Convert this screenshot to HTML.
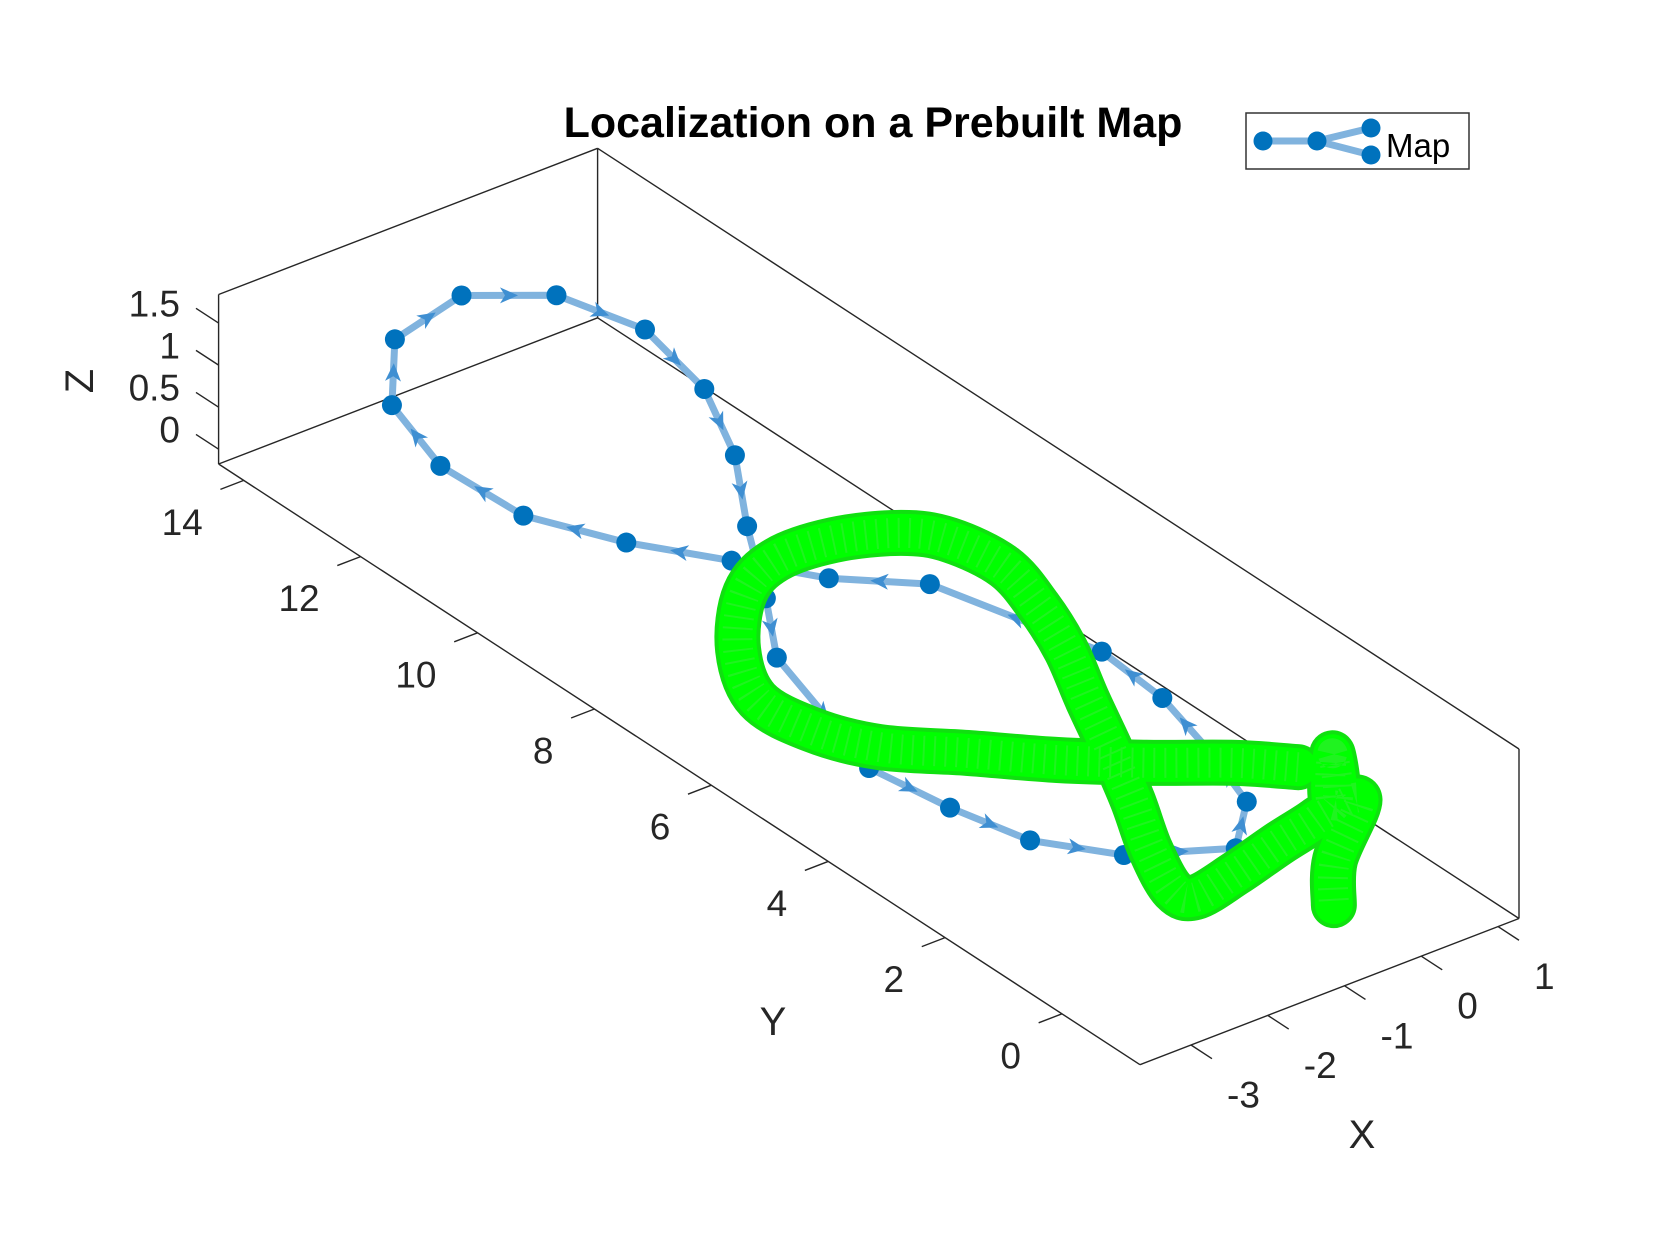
<!DOCTYPE html>
<html><head><meta charset="utf-8"><title>Localization on a Prebuilt Map</title>
<style>html,body{margin:0;padding:0;background:#fff;width:1680px;height:1260px;overflow:hidden}svg{display:block;font-family:"Liberation Sans",Arial,sans-serif}</style>
</head><body>
<svg id="chart" width="1680" height="1260" viewBox="0 0 1680 1260" xmlns="http://www.w3.org/2000/svg">
<rect width="1680" height="1260" fill="#fff"/>
<text x="873" y="123" text-anchor="middle" dominant-baseline="central" font-size="43" font-weight="bold" fill="#000">Localization on a Prebuilt Map</text>
<g id="axes"></g>
<g id="mapSeries"></g>
<g id="trajSeries"></g>
<g id="legend">
<rect x="1246" y="113" width="223" height="56" fill="#fff" stroke="#333" stroke-width="1.5"/>
<polyline points="1263,141 1317,141 1371,128" fill="none" stroke="#80b3de" stroke-width="7"/>
<line x1="1317" y1="141" x2="1371" y2="155" stroke="#80b3de" stroke-width="7"/>
<circle cx="1263" cy="141" r="9.5" fill="#0072bd"/>
<circle cx="1317" cy="141" r="9.5" fill="#0072bd"/>
<circle cx="1371" cy="128" r="9.5" fill="#0072bd"/>
<circle cx="1371" cy="155" r="9.5" fill="#0072bd"/>
<text x="1386" y="157" font-size="33" fill="#000">Map</text>
</g>
</svg>
<script>
// Axis limits
const xLim = [-3.665, 1.273];
const yLim = [-1.335, 14.43];
const zLim = [-0.176, 1.84];
const xTicks = [-3, -2, -1, 0, 1];
const yTicks = [0, 2, 4, 6, 8, 10, 12, 14];
const zTicks = [0, 0.5, 1, 1.5];
const zTickLabels = ["0", "0.5", "1", "1.5"];
// Map keyframes (blue)
const mapX = [-2.96,-2.32,-1.33,-0.55,-0.15,-0.20,-0.57,-1.15,-1.69,-2.24,-2.66,-2.39,-2.04,-1.35,-0.35,0.22,0.45,0.62,0.60,-0.17,-1.03,-1.71,-2.45,-3.06,-3.22];
const mapY = [12.39,13.18,13.34,12.74,11.75,10.67,9.66,8.69,7.66,6.75,4.62,3.59,2.68,1.98,1.38,1.94,2.89,3.91,4.92,6.85,7.45,8.22,9.05,10.01,11.22];
const mapZ = [1.2,1.4,1.5,1.5,1.4,1.2,1.0,0.8,0.6,0.5,0.3,0.2,0.1,0.0,0.0,0.1,0.2,0.3,0.4,0.6,0.7,0.8,0.9,1.0,1.1];
// Estimated camera trajectory (green)
const trajX = [1.18,0.72,-0.01,-0.70,-1.35,-2.00,-2.33,-2.40,-1.93,-1.16,-0.49,0.23,0.87,1.18,1.29,1.07,0.75,0.30,-0.14,-0.59,-1.07,-1.39,-1.29,-0.66,0.08,0.66,1.09,1.0,1.0,1.27,0.32,-0.26];
const trajY = [2.32,2.79,3.36,3.97,4.66,5.32,6.03,6.87,7.82,8.71,9.06,9.02,8.71,8.28,7.49,6.61,5.73,4.77,3.79,2.83,1.89,1.09,0.83,0.97,1.19,1.34,1.53,1.5,1.5,1.39,0.56,-0.18];
const trajZ = [0,0,0,0,0,0,0,0,0,0,0,0,0,0,0,0,0,0,0,0,0,0,0,0,0,0,0,0.6,0,0,0,0];

const NS = "http://www.w3.org/2000/svg";
const FRONT = [1140, 1064.7];
const EX = [379 / (xLim[1] - xLim[0]), -146.2 / (xLim[1] - xLim[0])];
const EY = [-921.4 / (yLim[1] - yLim[0]), -600.7 / (yLim[1] - yLim[0])];
const EZ = -169.5 / (zLim[1] - zLim[0]);
function proj(x, y, z) {
  const u = x - xLim[0], v = y - yLim[0], w = z - zLim[0];
  return [FRONT[0] + u * EX[0] + v * EY[0], FRONT[1] + u * EX[1] + v * EY[1] + w * EZ];
}
function mk(tag, attrs, parent) {
  const e = document.createElementNS(NS, tag);
  for (const k in attrs) e.setAttribute(k, attrs[k]);
  parent.appendChild(e);
  return e;
}
const axes = document.getElementById("axes");
function edge(a, b, name) {
  const p = proj(a[0], a[1], a[2]), q = proj(b[0], b[1], b[2]);
  const l = mk("line", {x1: p[0], y1: p[1], x2: q[0], y2: q[1], stroke: "#262626", "stroke-width": 1.4}, axes);
  
  
}
const [x0, x1] = xLim, [y0, y1] = yLim, [z0, z1] = zLim;
edge([x0, y1, z0], [x1, y1, z0], "box-edge-back-left-floor");
edge([x1, y1, z0], [x1, y0, z0], "box-edge-back-right-floor");
edge([x0, y1, z0], [x0, y1, z1], "box-edge-left-vertical");
edge([x1, y1, z0], [x1, y1, z1], "box-edge-back-vertical");
edge([x1, y0, z0], [x1, y0, z1], "box-edge-right-vertical");
edge([x0, y1, z1], [x1, y1, z1], "box-edge-top-left");
edge([x1, y1, z1], [x1, y0, z1], "box-edge-top-right");
edge([x0, y1, z0], [x0, y0, z0], "y-axis-line");
edge([x0, y0, z0], [x1, y0, z0], "x-axis-line");

function txt(x, y, s, anchor, size, name) {
  const t = mk("text", {x: x, y: y, "text-anchor": anchor, "dominant-baseline": "central", "font-size": size, fill: "#262626"}, axes);
  t.textContent = s;
  
  
  return t;
}
const eyN = Math.hypot(EY[0], EY[1]), exN = Math.hypot(EX[0], EX[1]);
yTicks.forEach(v => {
  const p = proj(x0, v, z0);
  const l = mk("line", {x1: p[0], y1: p[1], x2: p[0] - EX[0] / exN * 25, y2: p[1] - EX[1] / exN * 25, stroke: "#262626", "stroke-width": 1.4}, axes);
  
  
  txt(p[0] - 41, p[1] + 42, String(v), "end", 37, "y-tick-label");
});
xTicks.forEach(v => {
  const p = proj(v, y0, z0);
  const l = mk("line", {x1: p[0], y1: p[1], x2: p[0] - EY[0] / eyN * 25, y2: p[1] - EY[1] / eyN * 25, stroke: "#262626", "stroke-width": 1.4}, axes);
  
  
  txt(p[0] + 36, p[1] + 50, String(v), "start", 37, "x-tick-label");
});
zTicks.forEach((v, i) => {
  const p = proj(x0, y1, v);
  const l = mk("line", {x1: p[0], y1: p[1], x2: p[0] + EY[0] / eyN * 27, y2: p[1] + EY[1] / eyN * 27, stroke: "#262626", "stroke-width": 1.4}, axes);
  
  
  txt(180, p[1] - 19, zTickLabels[i], "end", 37, "z-tick-label");
});
txt(1362, 1135, "X", "middle", 40, "x-axis-title");
txt(773, 1022, "Y", "middle", 40, "y-axis-title");
const zt = txt(80, 381, "Z", "middle", 40, "z-axis-title");
zt.setAttribute("transform", "rotate(-90 80 381)");

// Map series
const mapG = document.getElementById("mapSeries");
const mp = mapX.map((x, i) => proj(x, mapY[i], mapZ[i]));
const closed = mp.concat([mp[0]]);
const ml = mk("polyline", {points: closed.map(p => p.join(",")).join(" "), fill: "none", stroke: "#80b3de", "stroke-width": 7, "stroke-linejoin": "round"}, mapG);


for (let i = 0; i < closed.length - 1; i++) {
  const a = closed[i], b = closed[i + 1];
  const mx = (a[0] + b[0]) / 2, my = (a[1] + b[1]) / 2;
  const ang = Math.atan2(b[1] - a[1], b[0] - a[0]) * 180 / Math.PI;
  const ar = mk("path", {d: "M9,0 L-9,-8 L-4,0 L-9,8 Z", fill: "#3f8fd2", transform: `translate(${mx},${my}) rotate(${ang})`}, mapG);
  
  
}
mp.forEach(p => {
  const c = mk("circle", {cx: p[0], cy: p[1], r: 10, fill: "#0072bd"}, mapG);
  
  
});

// Trajectory series (smoothed Catmull-Rom through projected poses)
const trG = document.getElementById("trajSeries");
const tp = trajX.map((x, i) => proj(x, trajY[i], trajZ[i]));
function smooth(P) {
  let d = `M${P[0][0]},${P[0][1]}`;
  for (let i = 0; i < P.length - 1; i++) {
    const p0 = P[Math.max(i - 1, 0)], p1 = P[i], p2 = P[i + 1], p3 = P[Math.min(i + 2, P.length - 1)];
    const c1 = [p1[0] + (p2[0] - p0[0]) / 6, p1[1] + (p2[1] - p0[1]) / 6];
    const c2 = [p2[0] - (p3[0] - p1[0]) / 6, p2[1] - (p3[1] - p1[1]) / 6];
    d += ` C${c1[0]},${c1[1]} ${c2[0]},${c2[1]} ${p2[0]},${p2[1]}`;
  }
  return d;
}
const dPath = smooth(tp);
const t1 = mk("path", {d: dPath, fill: "none", stroke: "#10e010", "stroke-width": 46, "stroke-linejoin": "round", "stroke-linecap": "round"}, trG);


const t2 = mk("path", {d: dPath, fill: "none", stroke: "#00ff00", "stroke-width": 38, "stroke-linejoin": "round", "stroke-linecap": "round"}, trG);


const t3 = mk("path", {d: dPath, fill: "none", stroke: "#3fe83f", "stroke-width": 30, "stroke-dasharray": "2 9", opacity: 0.5}, trG);


</script>
</body></html>
